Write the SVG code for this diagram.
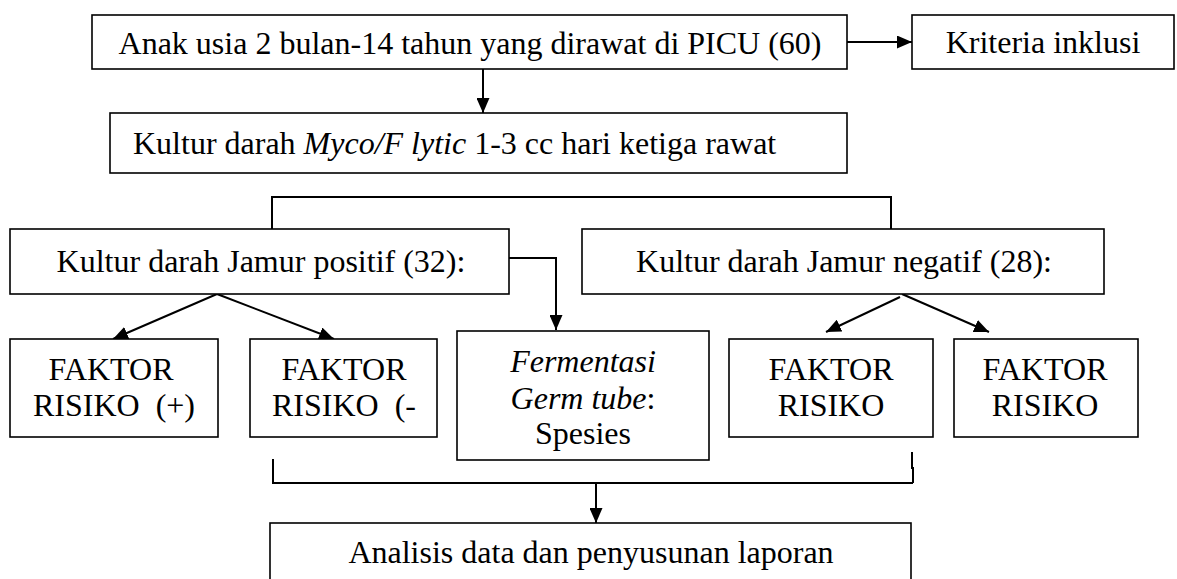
<svg xmlns="http://www.w3.org/2000/svg" width="1177" height="579" viewBox="0 0 1177 579">
<style>
.box{fill:#fff;stroke:#000;stroke-width:1.6}
.t{font-family:"Liberation Serif",serif;font-size:32px;fill:#000}
.c{text-anchor:middle}
.i{font-style:italic}
.ln{fill:none;stroke:#000;stroke-width:2}
</style>
<defs>
<marker id="ah" markerUnits="userSpaceOnUse" markerWidth="15" markerHeight="13" refX="15" refY="6.5" orient="auto">
<path d="M0,0 L15,6.5 L0,13 z" fill="#000"/>
</marker>
</defs>
<rect width="1177" height="579" fill="#fff"/>
<g id="n11">
<rect class="box" x="270" y="523" width="641" height="80"/>
<text class="t c" x="591" y="563">Analisis data dan penyusunan laporan</text>
</g>
<g id="n8">
<rect class="box" x="457" y="331" width="252" height="129"/>
<text class="t c i" x="583" y="372">Fermentasi</text>
<text class="t c" x="583" y="409"><tspan class="i">Germ tube</tspan>:</text>
<text class="t c" x="583" y="444">Spesies</text>
</g>
<g id="connectors">
<line class="ln" x1="847" y1="42" x2="912" y2="42" marker-end="url(#ah)"/>
<line class="ln" x1="483" y1="69" x2="483" y2="113" marker-end="url(#ah)"/>
<polyline class="ln" points="272,229 272,197 891,197 891,229"/>
<polyline class="ln" points="509,258 556,258 556,330" marker-end="url(#ah)"/>
<line class="ln" x1="217" y1="294" x2="113" y2="339" marker-end="url(#ah)"/>
<line class="ln" x1="217" y1="294" x2="334" y2="339" marker-end="url(#ah)"/>
<line class="ln" x1="900" y1="297" x2="826" y2="332" marker-end="url(#ah)"/>
<line class="ln" x1="902" y1="294" x2="989" y2="332" marker-end="url(#ah)"/>
<polyline class="ln" points="273,459 273,483 913,483"/>
<polyline class="ln" points="912,452 912,468 913,468 913,483"/>
<line class="ln" x1="596" y1="483" x2="596" y2="523" marker-end="url(#ah)"/>
</g>
<g id="n1">
<rect class="box" x="92" y="15" width="755" height="54"/>
<text class="t c" x="470" y="54">Anak usia 2 bulan-14 tahun yang dirawat di PICU (60)</text>
</g>
<g id="n2">
<rect class="box" x="912" y="15" width="262" height="54"/>
<text class="t c" x="1043" y="53">Kriteria inklusi</text>
</g>
<g id="n3">
<rect class="box" x="110" y="113" width="737" height="60"/>
<text class="t" x="133" y="154">Kultur darah <tspan class="i">Myco/F lytic</tspan> 1-3 cc hari ketiga rawat</text>
</g>
<g id="n4">
<rect class="box" x="10" y="229" width="499" height="65"/>
<text class="t c" x="261" y="272">Kultur darah Jamur positif (32):</text>
</g>
<g id="n5">
<rect class="box" x="582" y="229" width="522" height="65"/>
<text class="t c" x="844" y="272">Kultur darah Jamur negatif (28):</text>
</g>
<g id="n6">
<rect class="box" x="10" y="339" width="208" height="98"/>
<text class="t c" x="111" y="380">FAKTOR</text>
<text class="t c" x="114" y="416" xml:space="preserve">RISIKO  (+)</text>
</g>
<g id="n7">
<rect class="box" x="250" y="339" width="187" height="98"/>
<text class="t c" x="344" y="380">FAKTOR</text>
<text class="t c" x="344" y="416" xml:space="preserve">RISIKO  (-</text>
</g>
<g id="n9">
<rect class="box" x="729" y="339" width="204" height="98"/>
<text class="t c" x="831" y="380">FAKTOR</text>
<text class="t c" x="831" y="416">RISIKO</text>
</g>
<g id="n10">
<rect class="box" x="954" y="339" width="184" height="98"/>
<text class="t c" x="1045" y="380">FAKTOR</text>
<text class="t c" x="1045" y="416">RISIKO</text>
</g>
</svg>
